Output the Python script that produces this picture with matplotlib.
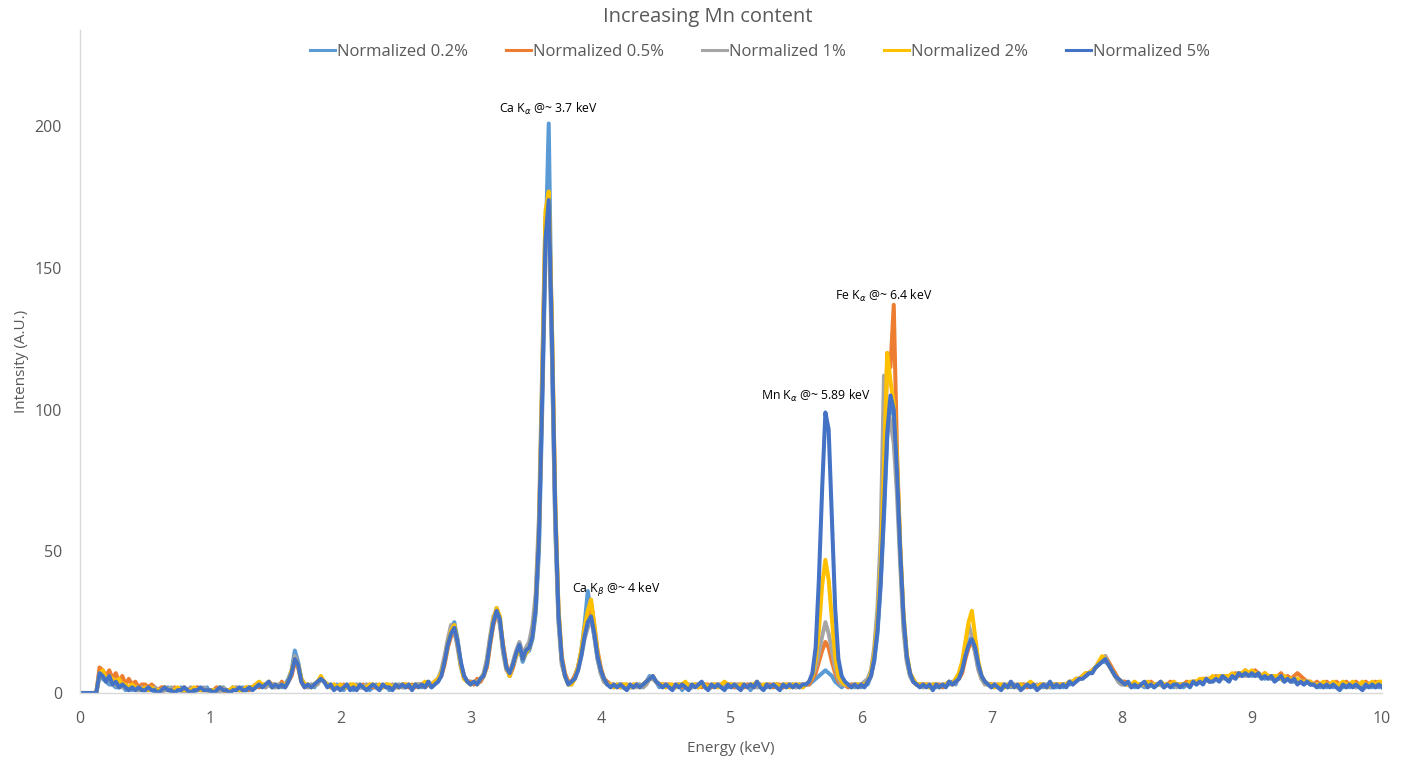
import numpy as np
import matplotlib
matplotlib.use("Agg")
import matplotlib.pyplot as plt

plt.rcParams['font.family'] = ['Open Sans', 'DejaVu Sans']

# Energy channels (keV), 0.025 keV spacing
energy = np.round(np.arange(401) * 0.025, 3)

norm_02 = [
    0,0,0,0,0,0,6,5,4,3,3,2,2,3,1,2,1,2,1,1,
    1,1,2,0,1,1,1,2,0,1,1,2,1,1,1,0,2,1,1,2,
    0,1,1,1,2,0,1,2,1,1,2,1,1,2,3,2,3,2,3,2,
    2,3,2,3,5,8,15,11,5,3,2,3,2,4,5,4,3,2,2,3,
    2,1,3,2,1,3,2,2,3,1,2,3,2,2,3,1,2,2,3,2,
    3,2,2,3,3,2,3,3,2,4,4,7,12,18,23,25,19,10,6,4,
    4,3,4,4,6,11,19,26,30,25,15,9,6,9,13,16,11,14,15,19,
    28,50,100,155,201,120,60,26,11,6,4,3,6,9,15,24,36,28,20,12,
    7,4,3,3,2,3,2,2,3,2,2,3,3,2,4,6,5,4,2,3,
    2,3,2,2,3,1,3,2,2,3,2,3,3,2,2,3,2,3,2,2,
    3,2,2,3,2,3,1,3,2,3,2,2,3,2,3,2,2,3,2,3,
    2,3,2,3,3,4,5,6,7,8,7,6,4,3,2,3,2,3,2,3,
    2,3,3,6,11,21,38,62,90,103,98,76,48,25,12,6,4,3,3,2,
    3,2,3,2,3,2,3,3,4,3,6,9,14,18,20,15,9,5,4,3,
    3,2,3,2,2,3,2,3,2,2,3,2,3,2,2,3,2,3,2,2,
    2,3,2,3,3,4,4,5,6,6,7,8,9,10,11,11,10,8,6,4,
    3,4,3,3,2,3,3,2,3,3,2,3,3,2,3,3,2,3,3,2,
    3,3,4,3,4,4,5,4,5,5,5,6,5,5,6,6,7,6,7,7,
    6,7,6,6,5,6,5,5,5,5,4,5,4,4,4,4,3,4,3,3,
    3,2,3,2,3,2,3,2,2,3,2,3,2,3,2,2,3,2,3,2,
    3,
]

norm_05 = [
    0,0,0,0,0,0,9,8,6,8,5,7,4,6,3,5,3,4,2,3,
    3,2,3,2,1,2,2,1,1,2,1,1,2,1,1,1,2,1,1,1,
    1,1,2,1,1,0,1,1,2,1,1,2,1,2,3,2,3,2,4,3,
    3,2,4,2,4,6,11,9,4,2,3,2,3,4,5,4,3,2,3,2,
    2,3,2,2,3,2,2,3,2,3,2,2,3,2,3,2,3,2,2,3,
    3,2,3,2,3,3,2,3,3,4,5,6,10,16,20,22,17,10,6,4,
    4,3,5,4,6,9,17,24,28,25,17,10,6,9,14,16,13,15,16,21,
    32,58,108,165,172,128,66,29,13,7,4,4,6,9,14,22,27,32,24,15,
    9,5,4,3,3,2,3,3,2,3,2,3,2,3,4,5,5,4,3,3,
    3,3,2,3,3,2,3,3,2,3,3,2,3,3,2,3,3,2,3,3,
    3,2,3,3,2,3,3,2,3,3,2,3,3,2,3,3,2,3,3,2,
    3,2,3,3,3,5,7,11,15,18,16,11,7,4,3,3,2,3,3,2,
    3,3,4,6,13,24,42,70,120,115,137,85,50,26,13,7,4,3,3,3,
    3,3,2,3,3,2,3,4,3,4,5,7,12,16,18,15,9,5,4,3,
    3,3,2,3,3,2,3,3,2,3,3,2,3,3,2,3,3,2,3,3,
    3,3,3,3,4,4,5,5,6,7,7,8,9,10,12,13,11,9,7,5,
    4,4,3,3,3,3,3,3,3,4,3,3,3,3,3,4,3,3,3,3,
    4,3,4,4,4,5,5,4,5,6,5,6,6,5,6,7,6,7,8,7,
    7,8,7,6,7,6,6,5,6,7,5,6,5,6,7,6,5,4,4,3,
    4,3,3,4,3,3,4,3,3,4,3,3,4,3,3,4,3,3,4,3,
    3,
]

norm_1 = [
    0,0,0,0,0,0,7,6,4,5,3,3,2,2,2,1,2,1,1,2,
    1,1,1,2,1,0,1,1,2,1,1,1,0,1,2,1,1,1,2,1,
    1,1,1,0,2,1,1,1,2,1,1,1,2,2,2,3,3,2,3,3,
    2,3,3,2,4,7,13,10,5,3,2,3,3,3,5,4,3,3,2,2,
    3,2,2,3,2,3,2,2,3,2,3,2,2,3,2,2,3,2,3,2,
    2,3,2,3,3,3,3,4,3,4,5,8,13,19,24,22,16,9,5,4,
    3,4,4,5,7,12,20,27,29,24,14,8,7,11,15,18,14,16,18,24,
    35,62,115,168,165,118,58,25,10,6,3,4,5,8,13,19,23,26,20,12,
    7,4,3,3,2,3,3,2,3,2,3,2,3,2,3,5,5,4,3,2,
    3,2,3,2,3,3,2,3,2,3,2,3,3,2,3,2,3,3,2,3,
    2,3,3,2,3,2,3,3,2,3,2,3,2,3,3,2,3,2,3,3,
    2,3,3,3,4,6,9,14,20,25,21,15,9,5,3,3,3,2,3,3,
    3,4,5,8,16,30,56,112,100,96,88,70,45,22,11,6,4,3,3,2,
    3,2,3,3,2,3,3,4,3,5,6,10,17,24,20,14,8,5,3,3,
    2,3,3,2,3,2,3,3,2,3,2,3,3,2,3,2,3,3,2,3,
    3,2,3,3,4,3,5,5,6,6,7,8,9,11,12,13,10,8,6,4,
    3,3,3,2,3,3,3,3,2,3,3,3,3,2,3,3,3,2,3,3,
    3,3,4,4,4,4,5,5,5,5,6,5,6,6,6,6,7,7,6,7,
    7,6,7,6,6,6,5,5,6,5,5,5,4,5,4,4,4,4,3,3,
    3,3,2,3,3,3,2,3,3,2,3,3,2,3,3,2,3,3,2,3,
    3,
]

norm_2 = [
    0,0,0,0,0,0,7,8,5,6,5,4,5,3,3,2,3,2,2,1,
    2,1,2,1,1,1,2,1,1,1,2,1,1,1,1,2,1,1,1,1,
    1,1,1,2,1,1,1,2,1,1,1,2,2,2,3,4,3,3,4,2,
    3,2,3,3,4,8,12,10,5,3,3,2,3,4,6,4,3,2,3,2,
    3,2,2,3,3,2,3,2,2,3,3,2,3,2,3,3,2,3,2,3,
    3,3,2,3,2,3,4,3,3,4,5,7,11,17,22,24,18,10,5,4,
    3,4,3,5,6,10,18,26,30,27,16,9,6,10,13,16,12,14,16,20,
    30,56,110,170,177,130,68,30,12,6,3,3,5,9,15,23,29,33,24,14,
    8,5,3,3,2,3,2,3,3,2,3,3,2,3,4,5,6,4,3,3,
    2,3,3,2,3,3,4,2,3,3,2,3,3,2,3,3,2,3,4,3,
    3,3,2,3,3,2,3,3,4,2,3,3,2,3,3,2,3,3,2,3,
    3,3,2,3,4,6,12,22,38,47,40,26,13,6,4,3,3,2,3,3,
    3,3,4,7,14,25,45,80,120,110,102,82,52,28,14,7,5,3,3,3,
    3,2,3,3,2,3,3,4,3,5,7,11,18,25,29,20,11,6,4,3,
    3,2,3,3,2,3,3,2,3,3,2,3,4,3,2,3,3,2,3,3,
    3,3,3,3,4,4,5,5,6,7,7,8,9,11,13,12,10,8,6,5,
    4,3,3,3,4,3,3,3,4,3,3,3,4,3,3,3,4,3,3,3,
    3,4,4,4,5,5,5,5,6,5,6,6,6,6,7,6,7,7,8,7,
    8,7,7,6,7,6,6,6,6,5,6,5,5,5,5,4,4,4,4,3,
    3,3,4,3,3,4,3,3,4,3,3,4,3,3,4,3,3,4,3,4,
    4,
]

norm_5 = [
    0,0,0,0,0,0,7,6,4,6,3,4,2,3,2,1,2,1,2,1,
    1,2,1,1,0,1,2,1,1,0,1,1,2,1,0,1,1,2,1,1,
    1,0,1,2,1,1,0,1,1,2,1,1,2,1,2,3,2,3,4,2,
    3,2,3,2,4,7,12,10,4,2,3,2,3,4,5,4,2,3,1,2,
    1,2,3,1,2,1,3,2,1,2,3,2,1,3,2,2,1,3,2,3,
    2,3,1,3,2,3,2,4,2,3,4,6,11,17,21,23,18,11,6,4,
    3,4,3,5,6,10,18,25,29,26,16,9,7,10,14,17,12,15,16,20,
    30,55,105,160,174,125,65,28,12,6,3,4,5,8,13,20,25,27,21,13,
    8,5,3,2,3,2,3,2,1,3,2,3,2,3,4,5,6,4,3,2,
    3,2,1,3,2,3,2,1,3,2,3,4,2,1,3,2,3,2,1,3,
    2,3,2,1,3,2,3,2,4,2,1,3,2,3,2,1,3,2,3,2,
    3,2,3,3,4,7,16,40,72,99,93,62,30,12,6,4,3,2,3,2,
    3,2,4,6,12,22,40,65,92,105,100,78,50,27,13,7,4,3,2,3,
    2,3,1,3,2,3,2,4,3,4,5,8,13,17,19,16,10,6,4,3,
    2,3,2,1,3,2,4,2,3,1,2,3,2,3,1,2,3,2,4,2,
    3,2,3,2,4,3,4,5,5,6,7,7,9,10,11,12,10,8,6,5,
    4,3,4,2,3,2,3,4,2,3,2,3,4,2,3,2,3,3,2,3,
    3,2,4,3,4,3,5,4,4,5,4,6,5,4,6,5,7,6,7,6,
    7,6,7,5,6,5,6,4,5,6,4,5,4,5,3,4,3,4,3,3,
    2,3,2,3,2,3,2,1,3,2,3,2,3,2,1,3,2,3,2,3,
    2,
]

series = [norm_02, norm_05, norm_1, norm_2, norm_5]
labels = ['Normalized 0.2%', 'Normalized 0.5%', 'Normalized 1%',
          'Normalized 2%', 'Normalized 5%']
colors = ['#5B9BD5', '#ED7D31', '#A5A5A5', '#FFC000', '#4472C4']

fig = plt.figure(figsize=(14.07, 7.6), dpi=100)
ax = fig.add_axes([80 / 1407, 1 - 693 / 760, 1302 / 1407, 663 / 760])

for y, lab, c in zip(series, labels, colors):
    ax.plot(energy, y, color=c, lw=2.9, label=lab)

ax.set_xlim(0, 10)
ax.set_ylim(0, 234)
ax.set_xticks(range(0, 11))
ax.set_yticks([0, 50, 100, 150, 200])
for s in ['top', 'right']:
    ax.spines[s].set_visible(False)
for s in ['left', 'bottom']:
    ax.spines[s].set_color('#D9D9D9')
    ax.spines[s].set_linewidth(1.0)
ax.tick_params(axis='both', length=0, labelsize=11.5, labelcolor='#595959')
ax.tick_params(axis='x', pad=13)
ax.tick_params(axis='y', pad=13)

ax.set_xlabel('Energy (keV)', fontsize=11, color='#595959', labelpad=10)
ax.set_ylabel('Intensity (A.U.)', fontsize=11, color='#595959', labelpad=4)

fig.text(708 / 1407, 1 - 17 / 760, 'Increasing Mn content', ha='center',
         va='center', fontsize=14.5, color='#595959')

leg = ax.legend(loc='center', bbox_to_anchor=(760 / 1407, 1 - 52 / 760),
                bbox_transform=fig.transFigure, ncol=5, frameon=False,
                fontsize=12, handlelength=1.5, handletextpad=0.1,
                columnspacing=2.3)
for t in leg.get_texts():
    t.set_color('#595959')
for h in leg.get_lines():
    h.set_linewidth(2.2)

ann_kw = dict(ha='center', va='center', fontsize=8.8, color='black')
ax.text(3.60, 206, r'Ca K$_{\alpha}$ @~ 3.7 keV', **ann_kw)
ax.text(4.12, 36.5, r'Ca K$_{\beta}$ @~ 4 keV', **ann_kw)
ax.text(5.65, 105, r'Mn K$_{\alpha}$ @~ 5.89 keV', **ann_kw)
ax.text(6.17, 140, r'Fe K$_{\alpha}$ @~ 6.4 keV', **ann_kw)

fig.savefig('out.png', dpi=100)
